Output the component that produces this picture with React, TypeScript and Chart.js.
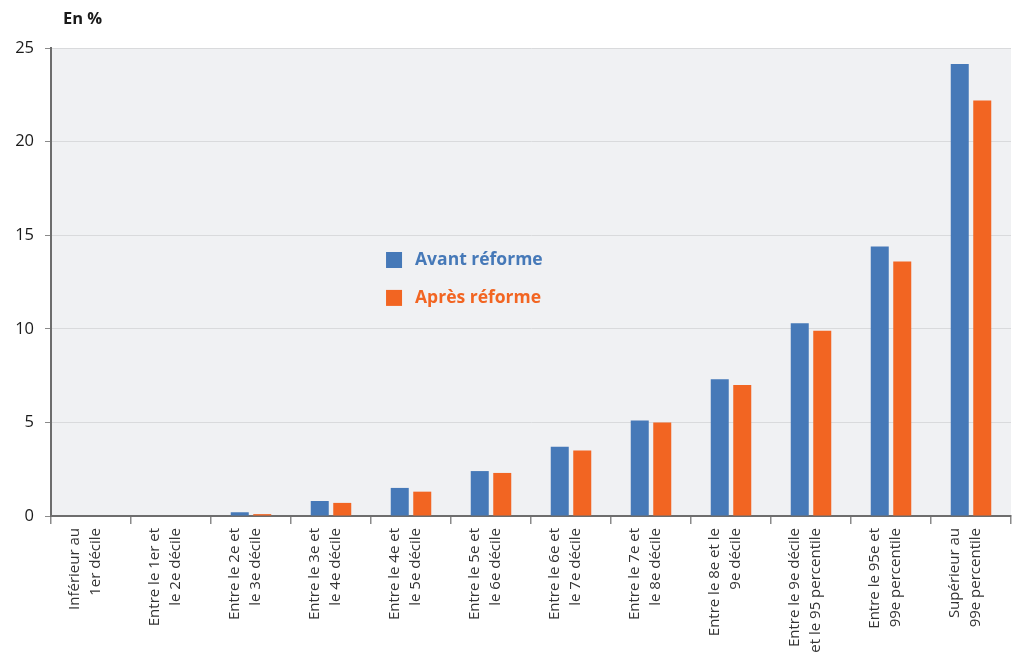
import React, { useEffect, useRef } from 'react';
import { Chart, registerables } from 'chart.js';

Chart.register(...registerables);

const categories: string[][] = [
  ['Inférieur au', '1er décile'],
  ['Entre le 1er et', 'le 2e décile'],
  ['Entre le 2e et', 'le 3e décile'],
  ['Entre le 3e et', 'le 4e décile'],
  ['Entre le 4e et', 'le 5e décile'],
  ['Entre le 5e et', 'le 6e décile'],
  ['Entre le 6e et', 'le 7e décile'],
  ['Entre le 7e et', 'le 8e décile'],
  ['Entre le 8e et le', '9e décile'],
  ['Entre le 9e décile', 'et le 95 percentile'],
  ['Entre le 95e et', '99e percentile'],
  ['Supérieur au', '99e percentile'],
];

const avantReforme = [0, 0, 0.2, 0.8, 1.5, 2.4, 3.7, 5.1, 7.3, 10.3, 14.4, 24.15];
const apresReforme = [0, 0, 0.1, 0.7, 1.3, 2.3, 3.5, 5.0, 7.0, 9.9, 13.6, 22.2];

const seriesLabels = ['Avant réforme', 'Après réforme'];
const seriesColors = ['#4679b8', '#f26522'];
const yTicks = [0, 5, 10, 15, 20, 25];
const unitLabel = 'En %';

const FONT = "'Open Sans', 'Noto Sans', sans-serif";

const decorPlugin = {
  id: 'decor',
  beforeDraw(chart: any) {
    const { ctx, chartArea: a } = chart;
    ctx.save();
    ctx.fillStyle = '#f0f1f3';
    ctx.fillRect(a.left, a.top, a.right - a.left, a.bottom - a.top);
    ctx.restore();
  },
  afterDraw(chart: any) {
    const { ctx, chartArea: a } = chart;
    const w = a.right - a.left;
    const h = a.bottom - a.top;
    ctx.save();
    ctx.fillStyle = '#1a1a1a';
    ctx.font = `bold 16.5px ${FONT}`;
    ctx.textBaseline = 'middle';
    ctx.textAlign = 'left';
    ctx.fillText(unitLabel, a.left + 12, a.top - 29);
    const x0 = a.left + w * 0.349;
    const ys = [a.top + h * 0.453, a.top + h * 0.534];
    chart.data.datasets.forEach((ds: any, i: number) => {
      const y = ys[i];
      ctx.fillStyle = ds.backgroundColor;
      ctx.fillRect(x0, y - 8, 16, 16);
      ctx.font = `bold 17.5px ${FONT}`;
      ctx.fillText(ds.label, x0 + 29, y);
    });
    ctx.restore();
  },
};

export default function App() {
  const ref = useRef<HTMLCanvasElement | null>(null);

  useEffect(() => {
    document.body.style.margin = '0';
    const canvas = ref.current;
    if (!canvas) return;
    const chart = new Chart(canvas, {
      type: 'bar',
      data: {
        labels: categories,
        datasets: [
          {
            label: seriesLabels[0],
            data: avantReforme,
            backgroundColor: seriesColors[0],
            categoryPercentage: 0.5625,
            barPercentage: 0.8,
          },
          {
            label: seriesLabels[1],
            data: apresReforme,
            backgroundColor: seriesColors[1],
            categoryPercentage: 0.5625,
            barPercentage: 0.8,
          },
        ],
      },
      options: {
        animation: false,
        responsive: true,
        maintainAspectRatio: false,
        layout: { padding: { top: 48, right: 5, left: 0, bottom: 0 } },
        plugins: {
          legend: { display: false },
          tooltip: { enabled: false },
          title: { display: false },
        },
        scales: {
          x: {
            offset: true,
            afterFit: (s: any) => {
              s.height = 143;
            },
            border: { color: '#6d6d6d', width: 2 },
            grid: {
              offset: true,
              drawOnChartArea: false,
              drawTicks: true,
              tickLength: 8,
              tickColor: '#8a8a8a',
              lineWidth: 1.5,
            },
            ticks: {
              autoSkip: false,
              maxRotation: 90,
              minRotation: 90,
              padding: 4,
              labelOffset: -16,
              color: '#333333',
              font: { family: FONT, size: 15, lineHeight: 1.35 },
            },
          },
          y: {
            min: 0,
            max: 25,
            afterFit: (s: any) => {
              s.width = 51;
            },
            afterBuildTicks: (s: any) => {
              s.ticks = yTicks.map((v) => ({ value: v }));
            },
            border: { color: '#6d6d6d', width: 2 },
            grid: {
              color: '#d9dadc',
              lineWidth: 1,
              drawTicks: true,
              tickLength: 6,
              tickColor: '#8a8a8a',
            },
            ticks: {
              padding: 11,
              color: '#1a1a1a',
              font: { family: FONT, size: 16.5 },
            },
          },
        },
      },
      plugins: [decorPlugin],
    });
    return () => chart.destroy();
  }, []);

  return (
    <div style={{ position: 'relative', width: '1016px', height: '659px' }}>
      <canvas ref={ref} />
    </div>
  );
}
